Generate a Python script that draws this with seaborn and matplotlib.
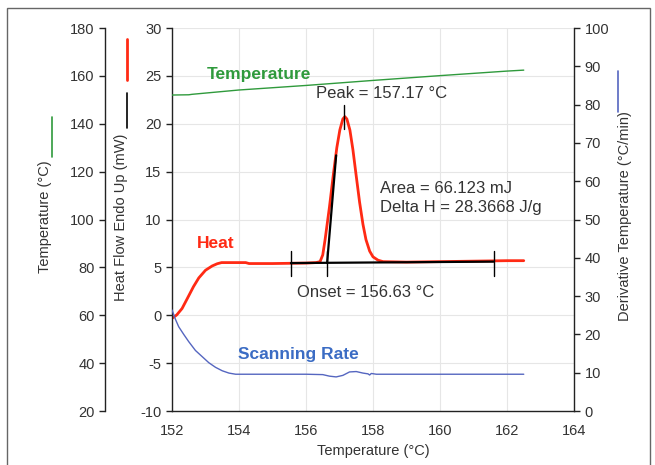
import matplotlib.pyplot as plt
import seaborn as sns
from matplotlib.lines import Line2D
from matplotlib.patches import Rectangle

# heat flow curve (mW)
heat_x = [152.0, 152.14, 152.3, 152.45, 152.64, 152.8, 153.0, 153.2, 153.35, 153.48,
          154.2, 154.3, 155.0, 156.0, 156.3, 156.42, 156.5, 156.57, 156.7, 156.82,
          156.92, 157.01, 157.1, 157.16, 157.22, 157.31, 157.4, 157.49, 157.6, 157.7,
          157.79, 157.9, 158.0, 158.15, 158.3, 159.0, 160.0, 161.0, 162.0, 162.5]
heat_y = [-0.32, 0.03, 0.7, 1.7, 2.98, 3.9, 4.7, 5.15, 5.38, 5.5,
          5.5, 5.4, 5.4, 5.45, 5.5, 5.6, 6.3, 7.9, 11.3, 14.8,
          17.5, 19.35, 20.5, 20.74, 20.5, 19.35, 17.3, 14.8, 11.8, 9.5,
          7.9, 6.7, 6.1, 5.75, 5.6, 5.55, 5.6, 5.65, 5.7, 5.7]

# sample temperature (°C)
temp_x = [152.0, 152.5, 152.6, 154.0, 156.0, 158.0, 160.0, 162.0, 162.5]
temp_y = [152.0, 152.1, 152.3, 154.1, 156.0, 158.1, 160.1, 162.0, 162.4]

# scanning rate (°C/min)
rate_x = [152.0, 152.1, 152.2, 152.35, 152.5, 152.7, 152.9, 153.1, 153.3, 153.5,
          153.7, 153.9, 155.0, 156.0, 156.5, 156.7, 156.9, 157.1, 157.3, 157.5,
          157.7, 157.85, 157.9, 157.95, 158.1, 159.0, 160.0, 162.5]
rate_y = [26.4, 24.0, 22.0, 20.0, 18.1, 15.8, 14.2, 12.6, 11.4, 10.5,
          9.9, 9.6, 9.6, 9.6, 9.5, 9.1, 8.9, 9.3, 10.2, 10.3,
          9.9, 9.7, 9.4, 9.8, 9.6, 9.6, 9.6, 9.6]

# baseline + onset tangent
base_x = [155.55, 161.6]
base_y = [5.45, 5.6]
tang_x = [156.63, 156.9]
tang_y = [5.45, 16.7]
tick_x = [155.55, 156.63, 161.6]

x_ticks = [152, 154, 156, 158, 160, 162, 164]
heat_ticks = [-10, -5, 0, 5, 10, 15, 20, 25, 30]
temp_ticks = [20, 40, 60, 80, 100, 120, 140, 160, 180]
rate_ticks = [0, 10, 20, 30, 40, 50, 60, 70, 80, 90, 100]

sns.set_style("white")
plt.rcParams['font.family'] = ['Liberation Sans', 'DejaVu Sans']
plt.rcParams['axes.unicode_minus'] = False

RED = '#ff2a14'
GREEN = '#2f9a3c'
BLUE = '#5566c0'
TXT = '#333333'

fig = plt.figure(figsize=(6.55, 4.65), dpi=100)
ax = fig.add_axes([172 / 655, 1 - 411 / 465, 402 / 655, 383 / 465])
ax_t = ax.twinx()
ax_r = ax.twinx()

# grid on main axis
ax.set_xlim(152, 164)
ax.set_ylim(-10, 30)
ax.set_xticks(x_ticks)
ax.set_yticks(heat_ticks)
ax.grid(True, color='#e6e6e6', lw=0.8)
ax.set_axisbelow(True)

sns.lineplot(x=temp_x, y=temp_y, ax=ax_t, color=GREEN, lw=1.0)
sns.lineplot(x=rate_x, y=rate_y, ax=ax_r, color=BLUE, lw=1.0)
sns.lineplot(x=heat_x, y=heat_y, ax=ax, color=RED, lw=2.0)
sns.lineplot(x=base_x, y=base_y, ax=ax, color='black', lw=1.6)
sns.lineplot(x=tang_x, y=tang_y, ax=ax, color='black', lw=1.6)
for tx in tick_x:
    ax.plot([tx, tx], [4.1, 6.7], color='black', lw=1.0)
ax.plot([157.14, 157.14], [19.4, 22.0], color='black', lw=1.0)

ax_t.set_ylim(20, 180)
ax_t.set_yticks(temp_ticks)
ax_r.set_ylim(0, 100)
ax_r.set_yticks(rate_ticks)

# spines
for a in (ax, ax_t, ax_r):
    for s in a.spines.values():
        s.set_visible(False)
ax.spines['left'].set_visible(True)
ax.spines['bottom'].set_visible(True)
ax_r.spines['right'].set_visible(True)
ax_t.spines['left'].set_visible(True)
ax_t.spines['left'].set_position(('axes', -67 / 402))
ax_t.yaxis.set_ticks_position('left')
ax_t.yaxis.set_label_position('left')
for a in (ax, ax_t, ax_r):
    for s in a.spines.values():
        s.set_color('#222222')
        s.set_linewidth(1.0)
    a.tick_params(colors='#222222', labelcolor=TXT, labelsize=10.5, length=4, width=1.0, direction='out')
ax.tick_params(axis='x', direction='inout', length=7, pad=6)

ax.set_xlabel('Temperature (°C)', fontsize=10.5, color=TXT, labelpad=4)
ax.set_ylabel('Heat Flow Endo Up (mW)', fontsize=10.5, color=TXT)
ax.yaxis.set_label_coords(-44 / 402, (411 - 217) / 383)
ax_t.set_ylabel('Temperature (°C)', fontsize=10.5, color=TXT)
ax_t.yaxis.set_label_coords(-120 / 402, (411 - 217) / 383)
ax_r.set_ylabel('Derivative Temperature (°C/min)', fontsize=10.5, color=TXT)
ax_r.yaxis.set_label_coords(446 / 402, (411 - 216) / 383)

# coloured legend marks above axis labels
def mark(xp, y0, y1, c):
    fig.add_artist(Line2D([xp / 655, xp / 655], [1 - y0 / 465, 1 - y1 / 465],
                          color=c, lw=1.2 if c != RED else 2.0))
mark(52, 117, 157, GREEN)
mark(127, 39, 80, RED)
mark(127, 93, 128, 'black')
mark(618, 71, 112, BLUE)

# annotations
ax.text(153.03, 25.1, 'Temperature', color=GREEN, fontsize=12.5, fontweight='bold', va='center')
ax.text(152.74, 7.5, 'Heat', color=RED, fontsize=12.5, fontweight='bold', va='center')
ax.text(153.98, -4.15, 'Scanning Rate', color='#3b6cc4', fontsize=12.5, fontweight='bold', va='center')
ax.text(156.29, 23.2, 'Peak = 157.17 °C', color=TXT, fontsize=12, va='center')
ax.text(158.21, 13.26, 'Area = 66.123 mJ', color=TXT, fontsize=12, va='center')
ax.text(158.21, 11.3, 'Delta H = 28.3668 J/g', color=TXT, fontsize=12, va='center')
ax.text(155.73, 2.4, 'Onset = 156.63 °C', color=TXT, fontsize=12, va='center')

fig.add_artist(Rectangle((7 / 655, -0.01), 643 / 655, 1 - 8 / 465 + 0.01,
                         fill=False, edgecolor='#666666', lw=1.0))

fig.savefig('out.png', dpi=100)
